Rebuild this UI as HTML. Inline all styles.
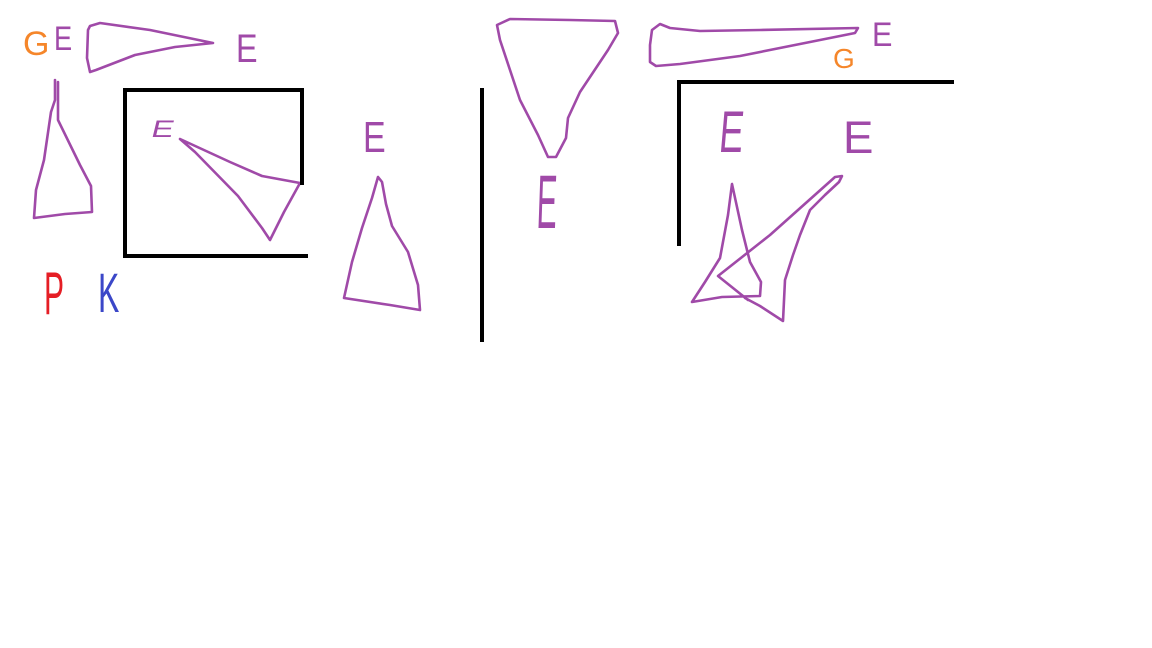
<!DOCTYPE html>
<html><head><meta charset="utf-8"><style>
html,body{margin:0;padding:0;background:#fff;width:1152px;height:648px;overflow:hidden}
svg{display:block}
text{font-family:"Liberation Sans",sans-serif}
</style></head><body>
<svg width="1152" height="648" viewBox="0 0 1152 648">
<g fill="none" stroke="#a04aa8" stroke-width="2.6" stroke-linejoin="round" stroke-linecap="round">
<path d="M90,26 L100,23 L150,30 L213,43 L175,47 L135,55 L96,70 L90,72 L87,58 L88,30 Z"/>
<path d="M55,80 L55,100 L51,112 L44,160 L36,190 L34,218 L65,214 L92,212 L91,186 L80,165 L58,120 L58,82"/>
<path d="M180,139 L230,162 L262,176 L300,183 L284,212 L270,240 L262,228 L238,196 L195,152 Z"/>
<path d="M378,177 L372,198 L362,228 L352,262 L344,298 L390,305 L420,310 L418,285 L408,252 L392,226 L386,204 L382,182 Z"/>
<path d="M497,25 L510,19 L570,20 L615,21 L618,33 L608,50 L580,92 L568,118 L566,138 L556,157 L548,157 L538,135 L520,100 L510,70 L500,40 Z"/>
<path d="M652,30 L660,24 L670,28 L700,31 L760,30 L858,28 L855,33 L810,42 L740,56 L680,64 L656,66 L650,62 L650,45 Z"/>
<path d="M732,184 L728,215 L720,258 L705,282 L692,302 L722,297 L760,296 L761,282 L750,262 L742,230 Z"/>
<path d="M748,300 L718,276 L770,235 L835,177 L842,176 L839,182 L825,195 L810,210 L800,235 L793,255 L785,280 L783,321 L760,306 L745,298"/>
</g>
<g stroke="#000" stroke-width="4" fill="none" stroke-linecap="square">
<path d="M125,90 L125,256"/>
<path d="M125,90 L302,90 L302,183"/>
<path d="M125,256 L306,256"/>
<path d="M482,90 L482,340"/>
<path d="M679,244 L679,82 L952,82"/>
</g>
<g fill="#a04aa8">
<text transform="translate(54,50) scale(0.8,1)" font-size="34">E</text>
<text transform="translate(236,62) scale(0.85,1.05)" font-size="38">E</text>
<text transform="translate(150,137) scale(1.1,0.8) skewX(-10)" font-size="30">E</text>
<text transform="translate(363,152) scale(0.85,1.1)" font-size="40">E</text>
<text transform="translate(536,228) scale(0.8,2) skewX(-5)" font-size="38">E</text>
<text transform="translate(872,46) scale(0.85,0.95)" font-size="36">E</text>
<text transform="translate(718,152) scale(0.95,1.55) skewX(-8)" font-size="38">E</text>
<text transform="translate(843,153) scale(1.2,1.2)" font-size="38">E</text>
</g>
<text x="23" y="55" font-size="34" fill="#f5862a">G</text>
<text x="833" y="68" font-size="28" fill="#f5862a">G</text>
<text transform="translate(44,314) scale(0.75,1.5)" font-size="40" fill="#e51e25">P</text>
<text transform="translate(98,312) scale(0.8,1.4)" font-size="40" fill="#3b47c8">K</text>
</svg>
</body></html>
